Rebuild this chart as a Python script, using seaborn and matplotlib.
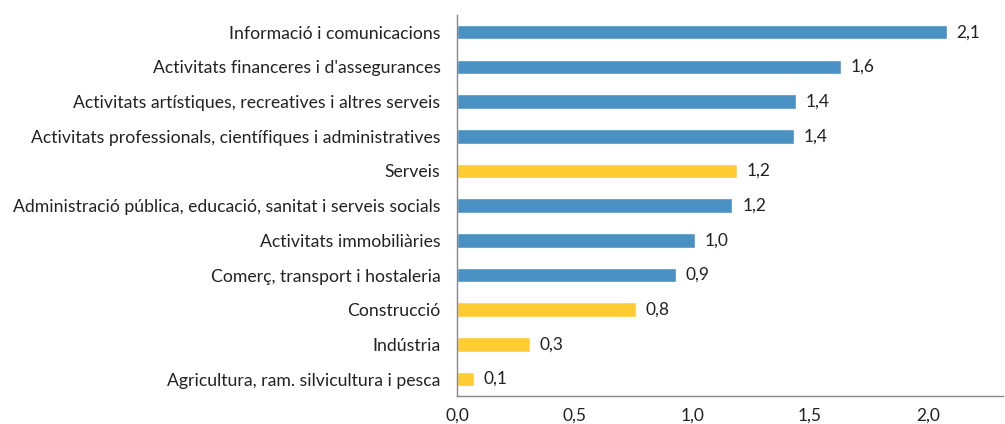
import numpy as np
import pandas as pd
import matplotlib
matplotlib.use('Agg')
import matplotlib.pyplot as plt
import seaborn as sns

categories = [
    "Informació i comunicacions",
    "Activitats financeres i d'assegurances",
    "Activitats artístiques, recreatives i altres serveis",
    "Activitats professionals, científiques i administratives",
    "Serveis",
    "Administració pública, educació, sanitat i serveis socials",
    "Activitats immobiliàries",
    "Comerç, transport i hostaleria",
    "Construcció",
    "Indústria",
    "Agricultura, ram. silvicultura i pesca",
]
values = [2.08, 1.63, 1.44, 1.43, 1.19, 1.17, 1.01, 0.93, 0.76, 0.31, 0.07]
groups = ["branca", "branca", "branca", "branca", "sector", "branca",
          "branca", "branca", "sector", "sector", "sector"]
x_ticks = [0.0, 0.5, 1.0, 1.5, 2.0]

sns.set_style("white")
plt.rcParams['font.family'] = ['Lato', 'DejaVu Sans']

df = pd.DataFrame({'cat': categories, 'val': values, 'grp': groups})
palette = {'branca': '#4a91c3', 'sector': '#ffcc33'}

fig, ax = plt.subplots(figsize=(10.05, 4.24), dpi=100)
fig.subplots_adjust(left=0.455, right=0.998, top=0.965, bottom=0.065)

sns.barplot(data=df, x='val', y='cat', hue='grp', palette=palette,
            dodge=False, width=0.42, legend=False, ax=ax, saturation=1)

for c in ax.containers:
    ax.bar_label(c, fmt=lambda v: f"{v:.1f}".replace('.', ','),
                 padding=7, fontsize=12.5, color='#222222')

ax.set_xlim(0, 2.32)
ax.set_ylim(len(categories) - 0.5, -0.5)
ax.set_xticks(x_ticks)
ax.set_xticklabels([f"{t:.1f}".replace('.', ',') for t in x_ticks])
ax.set_xlabel('')
ax.set_ylabel('')

ax.set_yticks(np.arange(-0.5, len(categories)), minor=True)
ax.tick_params(axis='y', which='major', length=0, pad=12, labelsize=12.7,
               labelcolor='#222222')
ax.tick_params(axis='y', which='minor', length=5, color='#868686', width=1)
ax.tick_params(axis='x', which='major', length=5, color='#868686', width=1,
               labelsize=12.5, labelcolor='#222222', pad=3)

for s in ['top', 'right']:
    ax.spines[s].set_visible(False)
for s in ['left', 'bottom']:
    ax.spines[s].set_color('#868686')
    ax.spines[s].set_linewidth(1)

plt.savefig('out.png', dpi=100)
